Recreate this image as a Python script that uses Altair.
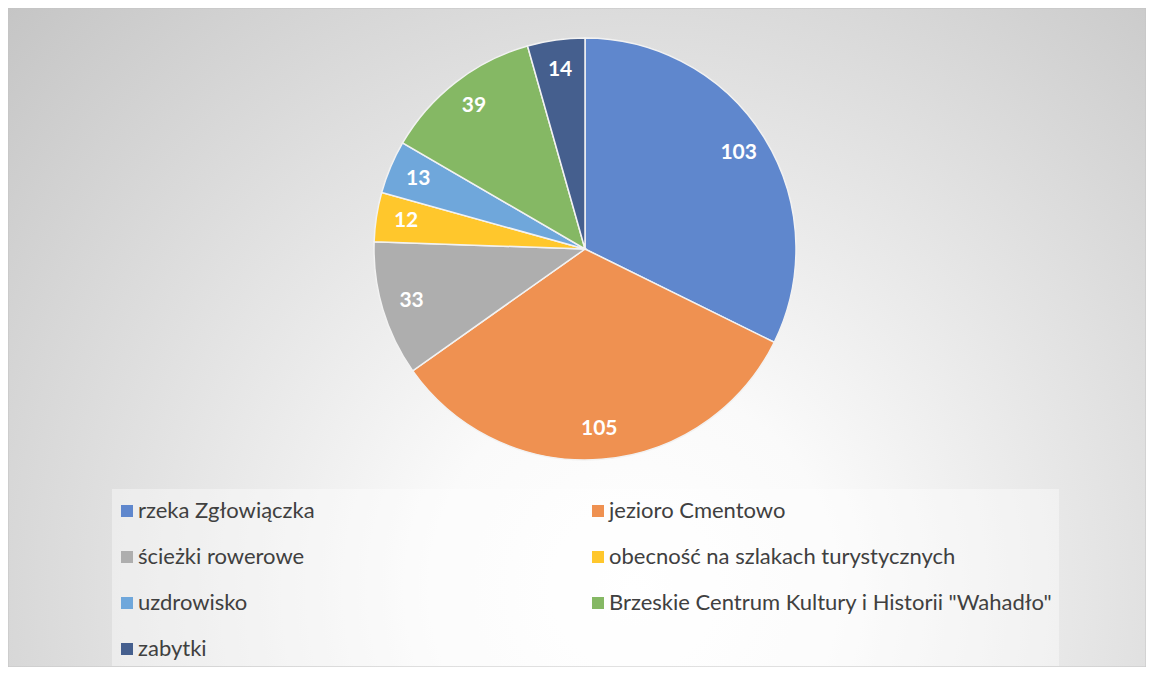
import altair as alt
import pandas as pd

categories = [
    "rzeka Zgłowiączka",
    "jezioro Cmentowo",
    "ścieżki rowerowe",
    "obecność na szlakach turystycznych",
    "uzdrowisko",
    'Brzeskie Centrum Kultury i Historii "Wahadło"',
    "zabytki",
]
values = [103, 105, 33, 12, 13, 39, 14]
colors = ["#5F87CD", "#EF9151", "#AEAEAE", "#FFC72C", "#6FA7DB", "#85B864", "#455F8E"]

# legend is laid out column by column, so order entries to read row by row
legend_order = [0, 2, 4, 6, 1, 3, 5]
legend_domain = [categories[i] for i in legend_order]
legend_range = [colors[i] for i in legend_order]

df = pd.DataFrame({"category": categories, "value": values, "idx": list(range(len(values)))})

W, H = 1138, 659
CX, CY, R = 577, 241, 211

one = pd.DataFrame({"a": [0]})

bg = alt.Chart(one).mark_rect(
    fill=alt.RadialGradient(
        gradient="radial",
        x1=0.55, y1=0.72, r1=0,
        x2=0.55, y2=0.72, r2=0.9,
        stops=[
            alt.GradientStop(color="#ffffff", offset=0),
            alt.GradientStop(color="#fafafa", offset=0.2),
            alt.GradientStop(color="#b7b7b7", offset=1),
        ],
    ),
    stroke="#c4c4c4",
    strokeWidth=1,
).encode(x=alt.value(0), x2=alt.value(W), y=alt.value(0), y2=alt.value(H))

legend_box = alt.Chart(one).mark_rect(fill="#ffffff", fillOpacity=0.4).encode(
    x=alt.value(104), x2=alt.value(1051), y=alt.value(481), y2=alt.value(658)
)

base = alt.Chart(df).encode(
    theta=alt.Theta("value:Q", stack=True),
    order=alt.Order("idx:Q"),
)

pie = base.mark_arc(radius=R, stroke="#f2f2f2", strokeWidth=1.5).encode(
    x=alt.value(CX),
    y=alt.value(CY),
    color=alt.Color(
        "category:N",
        scale=alt.Scale(domain=legend_domain, range=legend_range),
        legend=alt.Legend(
            title=None,
            orient="none",
            legendX=108,
            legendY=492,
            columns=2,
            columnPadding=272,
            rowPadding=24,
            padding=0,
            symbolType="square",
            symbolSize=144,
            symbolStrokeWidth=0,
            labelFont="Lato",
            labelFontSize=22,
            labelColor="#404040",
            labelLimit=800,
            labelOffset=0,
        ),
    ),
)

labels = base.mark_text(
    radius=181, font="Lato", fontSize=21, fontWeight="bold", color="white"
).encode(x=alt.value(CX), y=alt.value(CY), text="value:Q")

chart = alt.layer(bg, legend_box, pie, labels).properties(
    width=W, height=H, padding=0, autosize=alt.AutoSizeParams(type="none")
).configure_view(strokeWidth=0)

chart.save("out.html", embed_options={"renderer": "svg", "actions": False})
